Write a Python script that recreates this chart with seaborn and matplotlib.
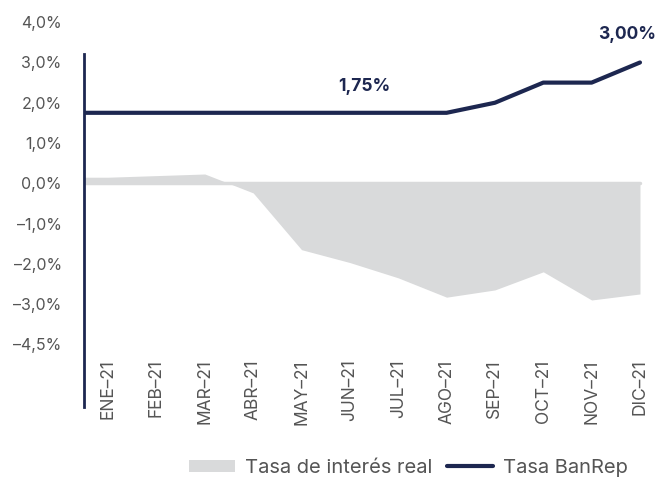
import numpy as np
import matplotlib.pyplot as plt
import seaborn as sns

# data
months = ['ENE\u201321', 'FEB\u201321', 'MAR\u201321', 'ABR\u201321', 'MAY\u201321', 'JUN\u201321',
          'JUL\u201321', 'AGO\u201321', 'SEP\u201321', 'OCT\u201321', 'NOV\u201321', 'DIC\u201321']
tasa_real = [0.15, 0.19, 0.23, -0.24, -1.65, -1.97, -2.35, -2.83, -2.65, -2.2, -2.9, -2.75]
tasa_banrep = [1.75, 1.75, 1.75, 1.75, 1.75, 1.75, 1.75, 1.75, 2.0, 2.5, 2.5, 3.0]
ytick_vals = [4, 3, 2, 1, 0, -1, -2, -3, -4]
ytick_labels = ['4,0%', '3,0%', '2,0%', '1,0%', '0,0%', '\u20131,0%', '\u20132,0%', '\u20133,0%', '\u20134,5%']

navy = '#1d2750'
grey = '#d9dadb'
text_grey = '#555555'

sns.set_style('white')
plt.rcParams['font.family'] = ['Inter', 'DejaVu Sans']

fig = plt.figure(figsize=(6.56, 4.83), dpi=100)
ax = fig.add_axes([0.128, 0.158, 0.852, 0.821])
ax.set_xlim(-0.5, 11.06)
ax.set_ylim(-5.55, 4.3)

idx = np.arange(len(months))
x0 = ax.get_xlim()[0]

# area from the left spine
xa = np.r_[x0, idx]
ya = np.r_[tasa_real[0], tasa_real]
ax.fill_between(xa, 0, ya, color=grey, lw=0, label='Tasa de interés real')
ax.plot([x0, idx[-1]], [0, 0], color=grey, lw=2.5)

# policy rate line
xl = np.r_[x0, idx]
yl = np.r_[tasa_banrep[0], tasa_banrep]
sns.lineplot(x=xl, y=yl, ax=ax, color=navy, lw=3, label='Tasa BanRep', sort=False)
ax.get_legend().remove()

ax.annotate('1,75%', (5.3, tasa_banrep[5]), xytext=(0, 13), textcoords='offset points',
            ha='center', va='bottom', color=navy, fontsize=12.5, fontweight='bold')
ax.annotate('3,00%', (idx[-1], tasa_banrep[-1]), xytext=(-9, 14), textcoords='offset points',
            ha='center', va='bottom', color=navy, fontsize=12.5, fontweight='bold')

ax.set_yticks(ytick_vals)
ax.set_yticklabels(ytick_labels)
ax.set_xticks(idx)
ax.set_xticklabels(months, rotation=90, va='top', ha='center')
ax.tick_params(axis='y', length=0, pad=16, labelsize=11.5, labelcolor=text_grey)
ax.tick_params(axis='x', length=0, pad=-34, labelsize=12.5, labelcolor=text_grey)

for s in ['top', 'right', 'bottom']:
    ax.spines[s].set_visible(False)
ax.spines['left'].set_color(navy)
ax.spines['left'].set_linewidth(2)
ax.spines['left'].set_bounds(-5.55, 3.2)

handles, labels = ax.get_legend_handles_labels()
fig.legend(handles, labels, loc='lower right', bbox_to_anchor=(0.985, -0.025), ncol=2,
           frameon=False, fontsize=14.5, labelcolor=text_grey, handlelength=2.3,
           handleheight=0.55, columnspacing=0.7, handletextpad=0.5)

fig.savefig('out.png', dpi=100)
